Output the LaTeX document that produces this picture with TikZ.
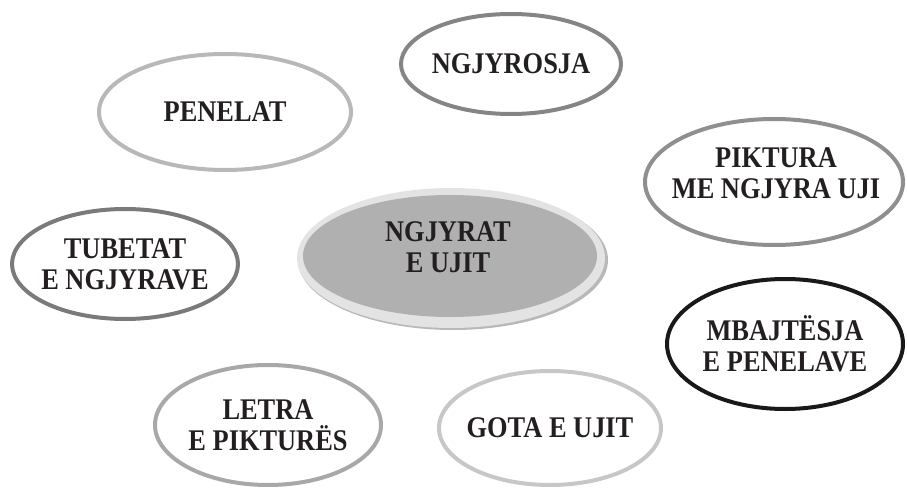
\documentclass[tikz,border=0pt]{standalone}
\usepackage{fontspec}
\setmainfont{Liberation Serif}[FakeStretch=0.88]
\usetikzlibrary{shapes.geometric}
\definecolor{ink}{HTML}{231F20}
\definecolor{coregray}{HTML}{B0B0B0}
\definecolor{rimgray}{HTML}{E3E3E3}
\definecolor{shadegray}{HTML}{B8B8B8}
\tikzstyle{topic}=[draw, ellipse, line width=4pt, inner sep=-20pt, align=center, text=ink, font=\fontsize{30}{31}\selectfont\bfseries]
\tikzstyle{hub}=[ellipse, inner sep=-20pt, align=center, text=ink, font=\fontsize{30}{31}\selectfont\bfseries]

\begin{document}
\begin{tikzpicture}[x=1pt, y=-1pt]
  \useasboundingbox (0,0) rectangle (907,489);

  % middle
  \node[hub, fill=shadegray, minimum width=310, minimum height=140] (hub_shade) at (453,260) {};
  \node[hub, fill=rimgray, minimum width=308, minimum height=140] (hub_rim) at (451,258) {};
  \node[hub, fill=coregray, minimum width=294, minimum height=122] (hub) at (450,256) {};
  \node[hub] (hub_text) at (448,247) {NGJYRAT\\E UJIT};

  % around it
  \node[topic, draw=black!48, minimum width=220, minimum height=100] (ngjyrosja) at (511,64) {NGJYROSJA};
  \node[topic, draw=black!28, minimum width=252, minimum height=116] (penelat) at (225,112) {PENELAT};
  \node[topic, draw=black!44, minimum width=258, minimum height=126] (piktura) at (774,182) {};
  \node[topic, draw=none] (piktura_text) at (776,173) {PIKTURA\\ME NGJYRA UJI};
  \node[topic, draw=black!52, minimum width=226, minimum height=110] (tubetat) at (125,264) {TUBETAT\\E NGJYRAVE};
  \node[topic, draw=black!90, minimum width=236, minimum height=130] (mbajtesja) at (785,344) {MBAJTËSJA\\E PENELAVE};
  \node[topic, draw=black!34, minimum width=226, minimum height=120] (letra) at (268,425) {LETRA\\E PIKTURËS};
  \node[topic, draw=black!22, minimum width=222, minimum height=114] (gota) at (550,428) {GOTA E UJIT};
\end{tikzpicture}
\end{document}
